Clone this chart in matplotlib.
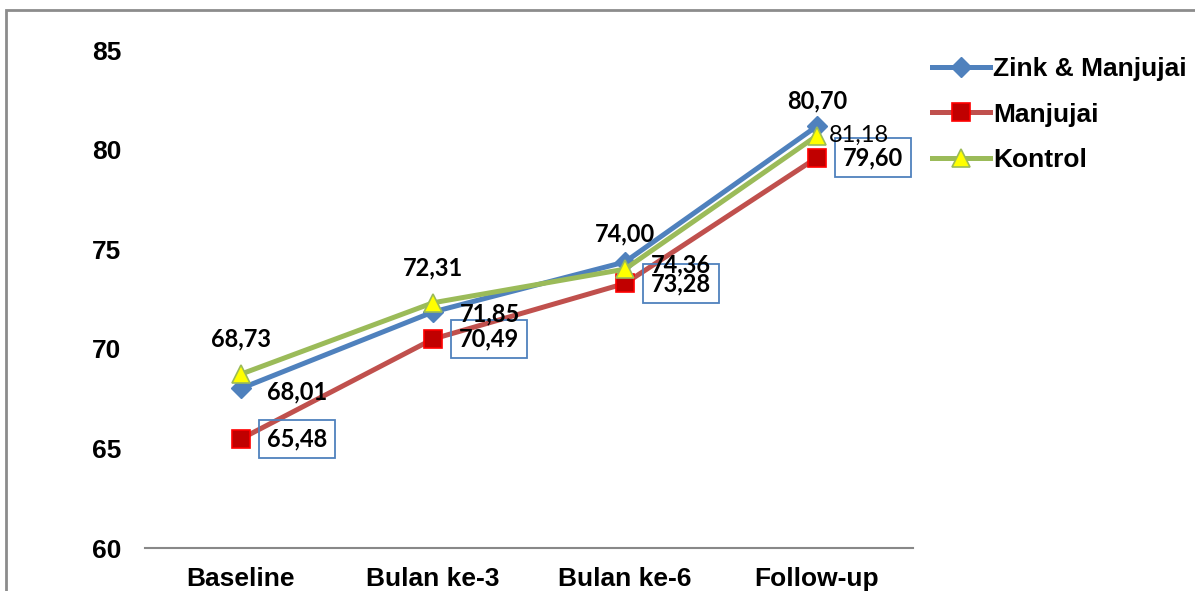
import matplotlib
matplotlib.use("Agg")
import matplotlib.pyplot as plt
from matplotlib.patches import Rectangle

categories = ["Baseline", "Bulan ke-3", "Bulan ke-6", "Follow-up"]
zink_manjujai = [68.01, 71.85, 74.36, 81.18]
manjujai = [65.48, 70.49, 73.28, 79.60]
kontrol = [68.73, 72.31, 74.00, 80.70]
series_names = ["Zink & Manjujai", "Manjujai", "Kontrol"]
y_ticks = [60, 65, 70, 75, 80, 85]

BLUE = "#4F81BD"
RED_LINE = "#C0504D"
GREEN = "#9BBB59"

def fmt(v):
    return f"{v:.2f}".replace(".", ",")

fig = plt.figure(figsize=(11.95, 5.91), dpi=100)
ax = fig.add_axes([145 / 1195, 1 - 548 / 591, 768 / 1195, 498 / 591])

x = list(range(len(categories)))
ax.plot(x, zink_manjujai, color=BLUE, lw=3.6, marker="D", ms=10,
        mfc=BLUE, mec=BLUE, label=series_names[0], zorder=3)
ax.plot(x, manjujai, color=RED_LINE, lw=3.6, marker="s", ms=13,
        mfc="#C00000", mec="#FF0000", mew=1.2, label=series_names[1], zorder=3)
ax.plot(x, kontrol, color=GREEN, lw=3.6, marker="^", ms=13,
        mfc="#FFFF00", mec=GREEN, mew=1.2, label=series_names[2], zorder=4)

ax.set_xlim(-0.5, len(categories) - 0.5)
ax.set_ylim(60, 85)
ax.set_yticks(y_ticks)
ax.set_xticks(x)
ax.set_xticklabels(categories)
for s in ["top", "right", "left"]:
    ax.spines[s].set_visible(False)
ax.spines["bottom"].set_color("#888888")
ax.spines["bottom"].set_linewidth(1.5)
ax.tick_params(axis="both", length=0)
ax.tick_params(axis="y", pad=17)
ax.tick_params(axis="x", pad=14)
for lbl in ax.get_xticklabels() + ax.get_yticklabels():
    lbl.set_fontfamily("Liberation Sans")
    lbl.set_fontweight("bold")
    lbl.set_fontsize(19)

px = 72 / 100  # points per pixel
label_font = dict(family="Lato", fontsize=17, fontweight="bold", color="black")

# Kontrol values above the markers
for xi, v in zip(x, kontrol):
    ax.annotate(fmt(v), (xi, v), xytext=(0, 35 * px), textcoords="offset points",
                ha="center", va="center", zorder=6, **label_font)

# Zink & Manjujai values to the right of the markers
zink_offsets = [(26, -3), (27, -2), (26, -3), (12, -9)]
for xi, v, (dx, dy) in zip(x, zink_manjujai, zink_offsets):
    weight = "normal" if xi == len(x) - 1 else "bold"
    ax.annotate(fmt(v), (xi, v), xytext=(dx * px, dy * px), textcoords="offset points",
                ha="left", va="center", zorder=6, family="Lato", fontsize=17,
                fontweight=weight, color="black")

# Manjujai values in framed boxes
for xi, v in zip(x, manjujai):
    ax.annotate(fmt(v), (xi, v), xytext=(56 * px, 0), textcoords="offset points",
                ha="center", va="center", zorder=5,
                bbox=dict(boxstyle="square,pad=0.33", fc="none", ec=BLUE, lw=1.3),
                **label_font)

leg = fig.legend(loc="upper left", bbox_to_anchor=(932 / 1195, 1 - 57 / 591),
                 frameon=False, handlelength=2.2, handletextpad=0.12,
                 labelspacing=0.82, borderpad=0, borderaxespad=0,
                 prop=dict(family="Liberation Sans", weight="bold", size=19))

# outer chart frame
fig.patches.append(Rectangle((6 / 1195, -0.05), 1.1, 1 - 10 / 591 + 0.05,
                             transform=fig.transFigure, fill=False,
                             ec="#8C8C8C", lw=2, zorder=0))

fig.savefig("out.png", dpi=100)
